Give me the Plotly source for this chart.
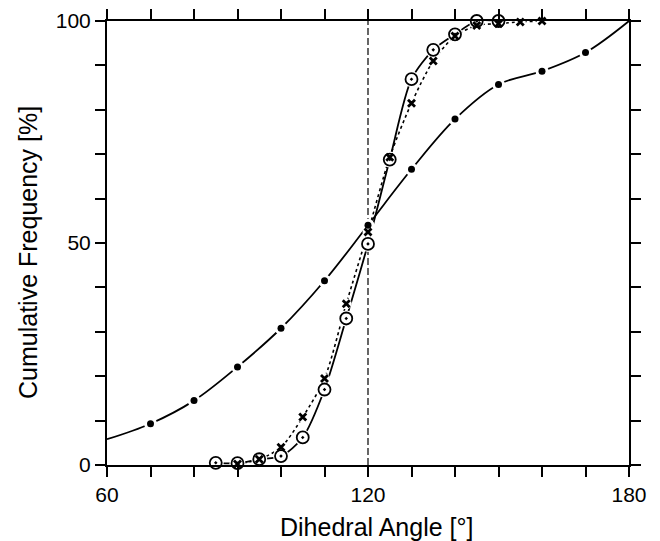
import plotly.graph_objects as go

# ---- data ----
# broad distribution (filled dots, solid line); first/last entries are curve ends
dot_x = [60, 70, 80, 90, 100, 110, 120, 130, 140, 150, 160, 170, 180]
dot_y = [5.8, 9.3, 14.5, 22.1, 30.8, 41.5, 54.0, 66.6, 77.9, 85.7, 88.7, 92.9, 100]

# narrow distribution (open circle with dot, solid line)
circ_x = [85, 90, 95, 100, 105, 110, 115, 120, 125, 130, 135, 140, 145, 150]
circ_y = [0.5, 0.4, 1.3, 2.0, 6.2, 17.0, 33.0, 49.8, 68.8, 86.9, 93.5, 97.0, 100, 100]

# narrow distribution (crosses, dotted line)
cross_x = [90, 95, 100, 105, 110, 115, 120, 125, 130, 135, 140, 145, 150, 155, 160]
cross_y = [0.2, 1.3, 4.0, 10.8, 19.5, 36.3, 52.5, 69.3, 81.5, 91.0, 96.6, 99.0, 99.4, 99.8, 100]

ref_angle = 120  # dashed reference line

x_tickvals = list(range(60, 181, 10))
x_ticktext = ["60", "", "", "", "", "", "120", "", "", "", "", "", "180"]
y_tickvals = list(range(0, 101, 10))
y_ticktext = ["0", "", "", "", "", "50", "", "", "", "", "100"]

x_title = "Dihedral Angle [°]"
y_title = "Cumulative Frequency [%]"

FONT = "Liberation Sans, Arial, sans-serif"

fig = go.Figure()

# lines first
fig.add_trace(go.Scatter(x=dot_x, y=dot_y, mode="lines",
                         line=dict(color="black", width=1.8, shape="spline", smoothing=1.0),
                         hoverinfo="skip", showlegend=False, cliponaxis=False))
fig.add_trace(go.Scatter(x=circ_x, y=circ_y, mode="lines",
                         line=dict(color="black", width=1.8, shape="spline", smoothing=0.8),
                         hoverinfo="skip", showlegend=False, cliponaxis=False))
fig.add_trace(go.Scatter(x=cross_x, y=cross_y, mode="lines",
                         line=dict(color="black", width=1.6, dash="dot", shape="spline", smoothing=0.8),
                         hoverinfo="skip", showlegend=False, cliponaxis=False))

# white halos to break the lines around the markers
fig.add_trace(go.Scatter(x=dot_x[1:-1], y=dot_y[1:-1], mode="markers",
                         marker=dict(symbol="circle", size=13, color="white"),
                         hoverinfo="skip", showlegend=False, cliponaxis=False))
fig.add_trace(go.Scatter(x=circ_x, y=circ_y, mode="markers",
                         marker=dict(symbol="circle", size=16, color="white"),
                         hoverinfo="skip", showlegend=False, cliponaxis=False))
fig.add_trace(go.Scatter(x=cross_x, y=cross_y, mode="markers",
                         marker=dict(symbol="circle", size=11, color="white"),
                         hoverinfo="skip", showlegend=False, cliponaxis=False))

# markers
fig.add_trace(go.Scatter(x=dot_x[1:-1], y=dot_y[1:-1], mode="markers",
                         marker=dict(symbol="circle", size=7, color="black"),
                         showlegend=False, cliponaxis=False))
fig.add_trace(go.Scatter(x=circ_x, y=circ_y, mode="markers",
                         marker=dict(symbol="circle-open-dot", size=12, color="black",
                                     line=dict(color="black", width=1.8)),
                         showlegend=False, cliponaxis=False))
fig.add_trace(go.Scatter(x=cross_x, y=cross_y, mode="markers",
                         marker=dict(symbol="x-thin-open", size=7, color="black",
                                     line=dict(color="black", width=2.8)),
                         showlegend=False, cliponaxis=False))

fig.add_shape(type="line", xref="x", yref="y", x0=ref_angle, x1=ref_angle, y0=0, y1=100,
              line=dict(color="black", width=1.2, dash="7px,3px"), layer="below")

axis_common = dict(showgrid=False, zeroline=False, showline=True, linecolor="black",
                   linewidth=2, ticks="outside", ticklen=10, tickwidth=2, tickcolor="black",
                   mirror="ticks", automargin=False,
                   tickfont=dict(family=FONT, size=21, color="black"))

fig.update_xaxes(range=[60, 180], tickmode="array", tickvals=x_tickvals, ticktext=x_ticktext,
                 **axis_common)
fig.update_yaxes(range=[0, 100], tickmode="array", tickvals=y_tickvals, ticktext=y_ticktext,
                 **axis_common)

fig.add_annotation(text=x_title, xref="paper", yref="paper", x=0.5172, y=-0.1396,
                   showarrow=False, xanchor="center", yanchor="middle",
                   font=dict(family=FONT, size=25, color="black"))
fig.add_annotation(text=y_title, xref="paper", yref="paper", x=-0.1513, y=0.4775,
                   showarrow=False, xanchor="center", yanchor="middle", textangle=-90,
                   font=dict(family=FONT, size=25, color="black"))

fig.update_layout(width=660, height=541, margin=dict(l=107, r=31, t=21, b=76),
                  paper_bgcolor="white", plot_bgcolor="white", showlegend=False)

fig.write_html("out.html")
